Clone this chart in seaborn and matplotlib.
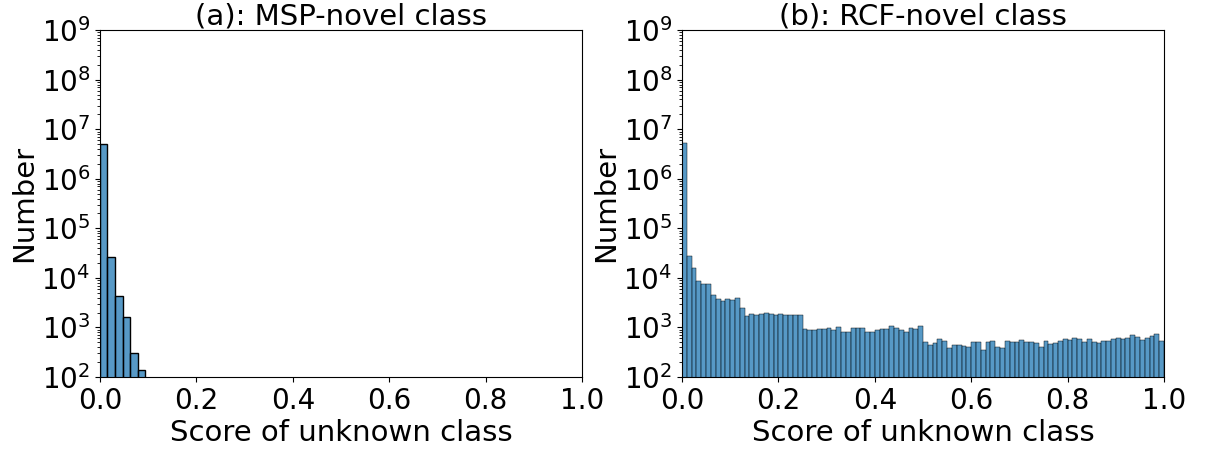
import numpy as np
import pandas as pd
import seaborn as sns
import matplotlib
matplotlib.use("Agg")
import matplotlib.pyplot as plt
from matplotlib.ticker import LogLocator, NullFormatter

# Histogram counts of the unknown-class score
msp_bin_width = 0.0156
msp_counts = [5.1e6, 2.7e4, 4.4e3, 1.6e3, 300, 138]

rcf_bin_width = 0.01
rcf_counts = [
    5.2e6, 2.8e4, 1.6e4, 8.7e3, 7.7e3, 7.7e3, 4.6e3, 3.8e3, 3.5e3, 3.8e3,
    3.6e3, 3.9e3, 2.5e3, 1.72e3, 1.9e3, 1.75e3, 1.9e3, 2.0e3, 1.9e3, 1.75e3,
    1.9e3, 1.75e3, 1.8e3, 1.75e3, 1.75e3, 920, 875, 890, 930, 930,
    980, 877, 1040, 826, 800, 980, 980, 980, 815, 815,
    906, 950, 950, 1075, 995, 906, 826, 965, 936, 1090,
    511, 451, 494, 588, 536, 386, 451, 444, 424, 405,
    511, 511, 357, 511, 536, 405, 386, 536, 511, 502,
    561, 511, 502, 488, 410, 536, 465, 480, 536, 597,
    569, 615, 588, 511, 588, 511, 488, 536, 536, 597,
    615, 597, 606, 708, 646, 561, 615, 685, 742, 536,
]

titles = ["(a): MSP-novel class", "(b): RCF-novel class"]
x_ticks = [0.0, 0.2, 0.4, 0.6, 0.8, 1.0]


def binned_frame(counts, width):
    n = len(counts)
    centers = (np.arange(n) + 0.5) * width
    return pd.DataFrame({"score": centers, "count": counts}), (0.0, n * width)


fig = plt.figure(figsize=(12.06, 4.57), dpi=100)
ax_a = fig.add_axes([0.0829, 0.175, 0.3997, 0.759])
ax_b = fig.add_axes([0.5655, 0.175, 0.3997, 0.759])

for ax, counts, width, title in [
    (ax_a, msp_counts, msp_bin_width, titles[0]),
    (ax_b, rcf_counts, rcf_bin_width, titles[1]),
]:
    df, brange = binned_frame(counts, width)
    sns.histplot(data=df, x="score", weights="count", binwidth=width,
                 binrange=brange, ax=ax, color="#1f77b4", edgecolor="black")
    ax.set_yscale("log")
    ax.set_ylim(1e2, 1e9)
    ax.yaxis.set_major_locator(LogLocator(base=10, numticks=20))
    ax.yaxis.set_minor_locator(LogLocator(base=10, subs=np.arange(2, 10), numticks=100))
    ax.yaxis.set_minor_formatter(NullFormatter())
    ax.set_xlim(0, 1)
    ax.set_xticks(x_ticks)
    ax.set_xticklabels([f"{t:.1f}" for t in x_ticks])
    ax.set_title(title, fontsize=21, pad=3)
    ax.set_xlabel("Score of unknown class", fontsize=21, labelpad=3)
    ax.set_ylabel("Number", fontsize=21, labelpad=2)
    ax.tick_params(axis="both", labelsize=20)

fig.savefig("out.png", dpi=100)
